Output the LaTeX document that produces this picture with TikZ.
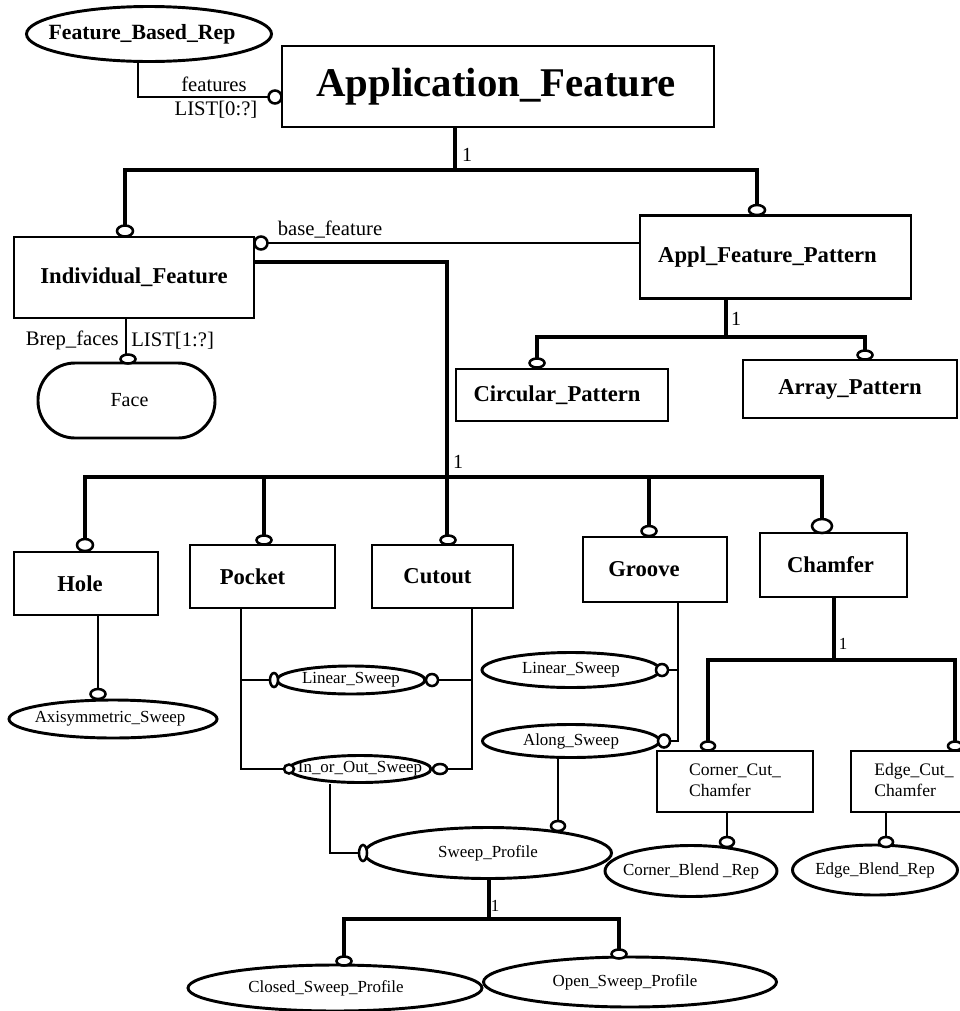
\documentclass[tikz,border=0pt]{standalone}
\usepackage{fontspec}
\setmainfont{Liberation Serif}
\usetikzlibrary{shapes.geometric}

% text set in a zero-width box, optionally moved left by #1 (in px of the drawing)
\newcommand\boxtext[2][0]{\makebox[0pt]{#2\hspace*{1.5\dimexpr #1pt\relax}}}

\begin{document}
\begin{tikzpicture}[x=0.75pt,y=-0.75pt,
  sz/.style 2 args={minimum width=#1*0.75pt,minimum height=#2*0.75pt},
  box/.style={draw,line width=2.2pt,inner sep=0pt,font=\fontsize{17}{20}\selectfont\bfseries},
  smallbox/.style={draw,line width=2.2pt,inner sep=0pt,font=\fontsize{13.2}{15.8}\selectfont},
  oval/.style={draw,ellipse,line width=2.2pt,inner sep=0pt,font=\fontsize{12.7}{15}\selectfont},
  attr/.style={inner sep=0pt,font=\fontsize{15.5}{18}\selectfont},
  card/.style={inner sep=0pt,font=\fontsize{15}{18}\selectfont},
  smallcard/.style={inner sep=0pt,font=\fontsize{12.7}{15}\selectfont},
  hier/.style={line width=3.4pt},
  rel/.style={line width=1.9pt},
  mk/.style={draw,fill=white,line width=1.9pt},
]
\useasboundingbox (0,0) rectangle (960,1011);
\fill[white] (0,0) rectangle (960,1011);
\clip (0,0) rectangle (960,1011);

% ---------- entities ----------
\node[box,sz={432}{81},font=\fontsize{30.6}{36}\selectfont\bfseries] (appfeat) at (498,86.5) {\boxtext[2]{Application\_Feature}};
\node[oval,sz={245}{55},font=\fontsize{16.3}{19}\selectfont\bfseries] (fbr) at (149,34) {\boxtext[7]{Feature\_Based\_Rep}};

\node[box,sz={240}{81}] (indiv) at (134,277.5) {\boxtext{Individual\_Feature}};
\node[box,sz={271}{83}] (afp) at (775.5,257) {\boxtext[8]{Appl\_Feature\_Pattern}};
\node[box,sz={212}{52}] (circ) at (562,395) {\boxtext[5]{Circular\_Pattern}};
\node[box,sz={214}{58}] (arr) at (850,389) {\boxtext{Array\_Pattern}};

\node[draw,line width=2.2pt,rounded corners=37*0.75pt,sz={177}{75},
      inner sep=0pt,font=\fontsize{15}{18}\selectfont] (face) at (126.5,400.5) {\boxtext[-3]{Face}};

\node[box,sz={144}{63}] (hole) at (86,583.5) {\boxtext[6]{Hole}};
\node[box,sz={145}{63}] (pocket) at (262.5,576.5) {\boxtext[10]{Pocket}};
\node[box,sz={141}{63}] (cutout) at (442.5,576.5) {\boxtext[5]{Cutout}};
\node[box,sz={144}{65}] (groove) at (655,569.5) {\boxtext[11]{Groove}};
\node[box,sz={147}{64}] (chamfer) at (833.5,565) {\boxtext[3]{Chamfer}};

\node[oval,sz={208}{38}] (axis) at (113,719) {\boxtext[3]{Axisymmetric\_Sweep}};
\node[oval,sz={148}{28}] (lin1) at (351,680) {\boxtext{Linear\_Sweep}};
\node[oval,sz={142}{27}] (inout) at (360,769) {\boxtext{In\_or\_Out\_Sweep}};
\node[oval,sz={178}{35}] (lin2) at (571,670) {\boxtext{Linear\_Sweep}};
\node[oval,sz={177}{33}] (along) at (571,741) {\boxtext{Along\_Sweep}};
\node[oval,sz={247}{51}] (sp) at (488,853) {\boxtext{Sweep\_Profile}};
\node[oval,sz={294}{46}] (closed) at (335,988) {\boxtext[9]{Closed\_Sweep\_Profile}};
\node[oval,sz={293}{50}] (open) at (630,982) {\boxtext[5]{Open\_Sweep\_Profile}};

\node[smallbox,sz={156}{61}] (corner) at (735,781.5)
  {\boxtext{\begin{tabular}{@{}l@{}}Corner\_Cut\_\\Chamfer\end{tabular}}};
\node[smallbox,sz={126}{61}] (edge) at (914,781.5)
  {\boxtext{\begin{tabular}{@{}l@{}}Edge\_Cut\_\\Chamfer\end{tabular}}};
\node[oval,sz={172}{51}] (cblend) at (691,871) {\boxtext{Corner\_Blend \_Rep}};
\node[oval,sz={165}{50}] (eblend) at (875,870) {\boxtext{Edge\_Blend\_Rep}};

% ---------- junction points ----------
\coordinate (fj) at (138,97);
\coordinate (h1) at (455,170);
\coordinate (d1) at (125,170);
\coordinate (d2) at (757,170);
\coordinate (bfm) at (261,243);
\coordinate (ij) at (447,262);
\coordinate (sj) at (447,477);
\coordinate (s1) at (85,477);
\coordinate (s2) at (264,477);
\coordinate (s4) at (649,477);
\coordinate (s5) at (822,477);
\coordinate (pj) at (726,337);
\coordinate (p1) at (537,337);
\coordinate (p2) at (865,337);
\coordinate (fc) at (126,0);
\coordinate (hx) at (98,0);
\coordinate (pl) at (241,769);
\coordinate (cr) at (472,769);
\coordinate (ix) at (330,0);
\coordinate (ax) at (558,0);
\coordinate (gx) at (678,0);
\coordinate (qj) at (489,919);
\coordinate (q1) at (344,919);
\coordinate (q2) at (619,919);
\coordinate (cj) at (834,660);
\coordinate (c1) at (708,660);
\coordinate (c2) at (955,660);
\coordinate (kx) at (727,0);
\coordinate (ex) at (886,0);

% ---------- connectors ----------
\draw[rel] (fj |- fbr.south) -- (fj) -- (fj -| appfeat.west);
\draw[hier] (h1 |- appfeat.south) -- (h1);
\draw[hier] (d1 |- indiv.north) -- (d1) -- (d2) -- (d2 |- afp.north);
\draw[rel] (bfm) -- (bfm -| afp.west);
\draw[hier] (ij -| indiv.east) -- (ij) -- (sj |- cutout.north);
\draw[hier] (s1 |- hole.north) -- (s1) -- (s5) -- (s5 |- chamfer.north);
\draw[hier] (s2) -- (s2 |- pocket.north);
\draw[hier] (s4) -- (s4 |- groove.north);
\draw[hier] (pj |- afp.south) -- (pj);
\draw[hier] (p1 |- circ.north) -- (p1) -- (p2) -- (p2 |- arr.north);
\draw[rel] (fc |- indiv.south) -- (fc |- face.north);
\draw[rel] (hx |- hole.south) -- (hx |- axis.north);
\draw[rel] (pl |- pocket.south) -- (pl) -- (inout.west);
\draw[rel] (pl |- lin1.west) -- (lin1.west);
\draw[rel] (cr |- cutout.south) -- (cr) -- (inout.east);
\draw[rel] (cr |- lin1.east) -- (lin1.east);
\draw[rel] (ix |- inout.south) -- (ix |- sp.west) -- (sp.west);
\draw[rel] (ax |- along.south) -- (ax |- sp.north);
\draw[rel] (gx |- groove.south) -- (gx |- along.east) -- (along.east);
\draw[rel] (gx |- lin2.east) -- (lin2.east);
\draw[hier] (qj |- sp.south) -- (qj);
\draw[hier] (q1 |- closed.north) -- (q1) -- (q2) -- (q2 |- open.north);
\draw[hier] (cj |- chamfer.south) -- (cj);
\draw[hier] (c1 |- corner.north) -- (c1) -- (c2) -- (c2 |- edge.north);
\draw[rel] (kx |- corner.south) -- (kx |- cblend.north);
\draw[rel] (ex |- edge.south) -- (ex |- eblend.north);

% ---------- optional-end markers ----------
\draw[mk] (275,97) ellipse [x radius=6.5, y radius=6.5];
\draw[mk] (125,231) ellipse [x radius=8, y radius=5.5];
\draw[mk] (757,210) ellipse [x radius=8, y radius=5];
\draw[mk] (261,243) ellipse [x radius=6.5, y radius=6.5];
\draw[mk] (537,363) ellipse [x radius=7.5, y radius=4.5];
\draw[mk] (865,355) ellipse [x radius=7.5, y radius=4.5];
\draw[mk] (128,359) ellipse [x radius=7.5, y radius=4.5];
\draw[mk] (85,545) ellipse [x radius=8, y radius=6];
\draw[mk] (264,540) ellipse [x radius=7.5, y radius=4.5];
\draw[mk] (448,540) ellipse [x radius=7.5, y radius=4.5];
\draw[mk] (649,531) ellipse [x radius=7.5, y radius=5];
\draw[mk] (822,526) ellipse [x radius=10, y radius=7];
\draw[mk] (98,694) ellipse [x radius=7.5, y radius=5];
\draw[mk] (274,680) ellipse [x radius=4, y radius=7];
\draw[mk] (432,680) ellipse [x radius=6, y radius=6];
\draw[mk] (289,769) ellipse [x radius=5, y radius=4.5];
\draw[mk] (440,769) ellipse [x radius=7, y radius=5];
\draw[mk] (662,670) ellipse [x radius=6, y radius=6];
\draw[mk] (664,741) ellipse [x radius=6, y radius=6.5];
\draw[mk] (363,853) ellipse [x radius=4, y radius=8];
\draw[mk] (558,826) ellipse [x radius=7, y radius=5];
\draw[mk] (344,961) ellipse [x radius=7.5, y radius=4.5];
\draw[mk] (619,954) ellipse [x radius=7.5, y radius=4.5];
\draw[mk] (708,746) ellipse [x radius=7, y radius=4.5];
\draw[mk] (955,746) ellipse [x radius=7, y radius=4.5];
\draw[mk] (727,842) ellipse [x radius=7, y radius=5];
\draw[mk] (886,842) ellipse [x radius=7, y radius=5];

% ---------- role names and cardinalities ----------
\node[attr] (lfeat) at (214,84) {features};
\node[attr] (llist0) at (216,110) {LIST[0:?]};
\node[card] (one1) at (467,155) {1};
\node[attr] (lbase) at (330,230) {base\_feature};
\node[attr,anchor=east] (lbrep) at (119,340) {Brep\_faces};
\node[attr,anchor=west] (llist1) at (131,341) {LIST[1:?]};
\node[card] (one2) at (736,319) {1};
\node[card] (one3) at (458,462) {1};
\node[smallcard] (one4) at (843,644) {1};
\node[smallcard] (one5) at (495,906) {1};
\end{tikzpicture}
\end{document}
